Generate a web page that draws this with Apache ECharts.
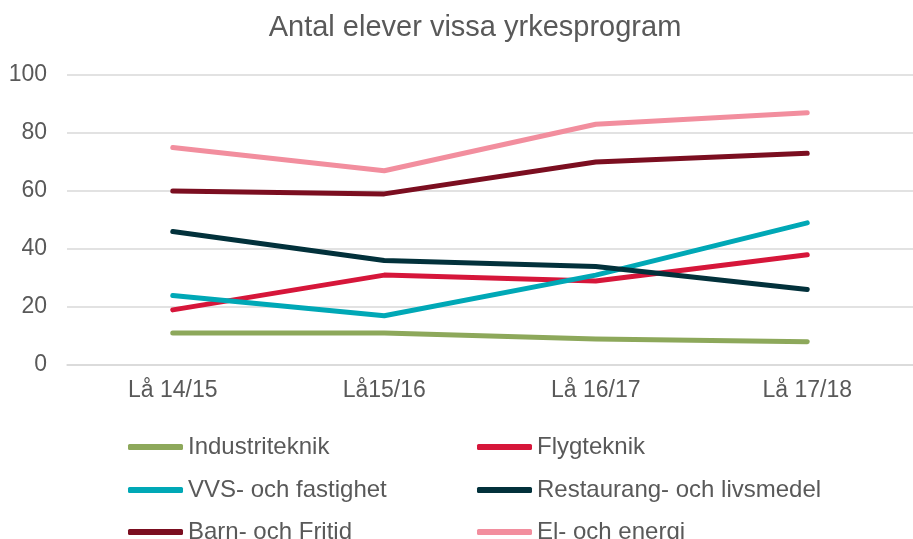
<!DOCTYPE html>
<html>
<head>
<meta charset="utf-8">
<script src="https://cdn.jsdelivr.net/npm/echarts@6/dist/echarts.min.js"></script>
<style>
  html, body { margin: 0; padding: 0; background: #fff; }
  #chart { width: 913px; height: 539px; }
</style>
</head>
<body>
<div id="chart"></div>
<script>
  // data
  const categories = ['Lå 14/15', 'Lå15/16', 'Lå 16/17', 'Lå 17/18'];
  const industriteknik = [11, 11, 9, 8];
  const flygteknik = [19, 31, 29, 38];
  const vvs = [24, 17, 31, 49];
  const restaurang = [46, 36, 34, 26];
  const barnFritid = [60, 59, 70, 73];
  const elEnergi = [75, 67, 83, 87];

  const font = 'Liberation Sans, Arial, sans-serif';
  const grey = '#595959';

  const mk = (name, data, color) => ({
    name, type: 'line', data, symbol: 'none', smooth: false,
    lineStyle: { color, width: 5, cap: 'round', join: 'round' },
    itemStyle: { color }
  });

  // one legend per entry so the two columns line up
  const leg = (name, left, top) => ({
    data: [name], left, top,
    itemWidth: 55, itemHeight: 6, itemGap: 0,
    icon: 'roundRect',
    padding: 0,
    textStyle: { color: grey, fontSize: 24, fontFamily: font }
  });

  const chart = echarts.init(document.getElementById('chart'));
  chart.setOption({
    animation: false,
    title: {
      text: 'Antal elever vissa yrkesprogram',
      left: 470, top: 8, textAlign: 'center',
      textStyle: { color: grey, fontSize: 29, fontWeight: 'normal', fontFamily: font }
    },
    legend: [
      leg('Industriteknik', 128, 435),
      leg('Flygteknik', 477, 435),
      leg('VVS- och fastighet', 128, 478),
      leg('Restaurang- och livsmedel', 477, 478),
      leg('Barn- och Fritid', 128, 520),
      leg('El- och energi', 477, 520)
    ],
    grid: { left: 67, top: 75, width: 856, height: 290 },
    xAxis: {
      type: 'category',
      data: categories,
      axisLine: { lineStyle: { color: '#d9d9d9', width: 1.5 } },
      axisTick: { show: false },
      axisLabel: { color: grey, fontSize: 23, fontFamily: font, margin: 14 }
    },
    yAxis: {
      type: 'value',
      min: 0, max: 100, interval: 20,
      axisLabel: { color: grey, fontSize: 23, fontFamily: font, margin: 20 },
      splitLine: { lineStyle: { color: '#d9d9d9', width: 1.5 } }
    },
    series: [
      mk('Industriteknik', industriteknik, '#8DA85B'),
      mk('Flygteknik', flygteknik, '#D6163A'),
      mk('VVS- och fastighet', vvs, '#00A8B6'),
      mk('Restaurang- och livsmedel', restaurang, '#02313B'),
      mk('Barn- och Fritid', barnFritid, '#7B0E20'),
      mk('El- och energi', elEnergi, '#F28E9E')
    ]
  });
</script>
</body>
</html>
